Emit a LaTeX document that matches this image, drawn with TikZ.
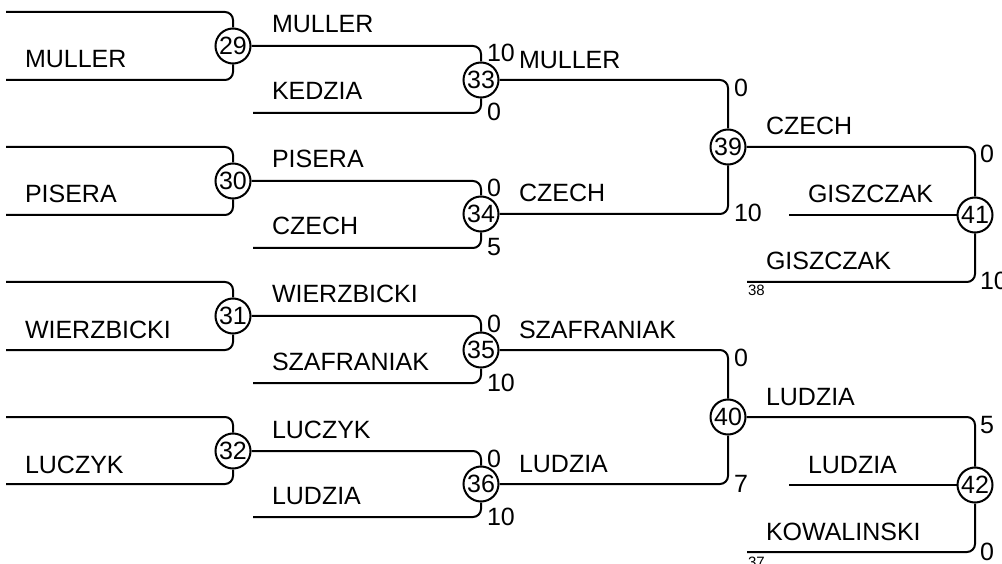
\documentclass[tikz,border=0pt]{standalone}
\usepackage{fontspec}
\setmainfont{Liberation Sans}
\begin{document}
\begin{tikzpicture}[x=1pt,y=-1pt, line width=2pt,
  seed/.style={circle,draw,fill=white,inner sep=0pt,minimum size=35pt,font=\fontsize{25}{30}\selectfont},
  lbl/.style={anchor=base west,inner sep=0pt,font=\fontsize{25}{30}\selectfont},
  score/.style={anchor=base west,inner sep=0pt,font=\fontsize{25}{30}\selectfont},
  tinylbl/.style={anchor=base west,inner sep=0pt,font=\fontsize{15}{18}\selectfont},
  br/.style={rounded corners=8pt}]
\useasboundingbox (0,0) rectangle (1002,564);
% match nodes
\node[seed] (c29) at (233,46) {29};
\node[seed] (c30) at (233,181) {30};
\node[seed] (c31) at (233,316) {31};
\node[seed] (c32) at (233,451) {32};
\node[seed] (c33) at (481,80) {33};
\node[seed] (c34) at (481,214) {34};
\node[seed] (c35) at (481,350) {35};
\node[seed] (c36) at (481,484) {36};
\node[seed] (c39) at (728,147) {39};
\node[seed] (c40) at (728,417) {40};
\node[seed] (c41) at (975,215) {41};
\node[seed] (c42) at (975,485) {42};
% free ends
\coordinate (s29t) at (6,12);   \coordinate (s29b) at (6,80);
\coordinate (s30t) at (6,147);  \coordinate (s30b) at (6,215);
\coordinate (s31t) at (6,282);  \coordinate (s31b) at (6,350);
\coordinate (s32t) at (6,417);  \coordinate (s32b) at (6,484);
\coordinate (s33b) at (253,113);
\coordinate (s34b) at (253,248);
\coordinate (s35b) at (253,383);
\coordinate (s36b) at (253,517);
\coordinate (s41b) at (747,282); \coordinate (s41m) at (789,215);
\coordinate (s42b) at (747,552); \coordinate (s42m) at (789,485);
% round 1
\foreach \m in {29,30,31,32}{
  \draw[br] (s\m t) -| (c\m.north);
  \draw[br] (s\m b) -| (c\m.south);
}
% round 2
\draw[br] (c29.east) -| (c33.north); \draw[br] (s33b) -| (c33.south);
\draw[br] (c30.east) -| (c34.north); \draw[br] (s34b) -| (c34.south);
\draw[br] (c31.east) -| (c35.north); \draw[br] (s35b) -| (c35.south);
\draw[br] (c32.east) -| (c36.north); \draw[br] (s36b) -| (c36.south);
% round 3
\draw[br] (c33.east) -| (c39.north); \draw[br] (c34.east) -| (c39.south);
\draw[br] (c35.east) -| (c40.north); \draw[br] (c36.east) -| (c40.south);
% round 4
\draw[br] (c39.east) -| (c41.north); \draw[br] (s41b) -| (c41.south); \draw (s41m) -- (c41.west);
\draw[br] (c40.east) -| (c42.north); \draw[br] (s42b) -| (c42.south); \draw (s42m) -- (c42.west);
% round 1 names
\node[lbl] (n1) at (24,68) {MULLER};
\node[lbl] (n2) at (24,203) {PISERA};
\node[lbl] (n3) at (24,338) {WIERZBICKI};
\node[lbl] (n4) at (24,473) {LUCZYK};
% round 2 names
\node[lbl] (n5) at (271,33) {MULLER};
\node[lbl] (n6) at (271,100) {KEDZIA};
\node[lbl] (n7) at (271,168) {PISERA};
\node[lbl] (n8) at (271,235) {CZECH};
\node[lbl] (n9) at (271,303) {WIERZBICKI};
\node[lbl] (n10) at (271,370) {SZAFRANIAK};
\node[lbl] (n11) at (271,438) {LUCZYK};
\node[lbl] (n12) at (271,504) {LUDZIA};
% round 3 names
\node[lbl] (n13) at (518,69) {MULLER};
\node[lbl] (n14) at (518,202) {CZECH};
\node[lbl] (n15) at (518,338) {SZAFRANIAK};
\node[lbl] (n16) at (518,472) {LUDZIA};
% round 4 names
\node[lbl] (n17) at (765,135) {CZECH};
\node[lbl] (n18) at (807,203) {GISZCZAK};
\node[lbl] (n19) at (765,270) {GISZCZAK};
\node[lbl] (n20) at (765,405) {LUDZIA};
\node[lbl] (n21) at (807,473) {LUDZIA};
\node[lbl] (n22) at (765,540) {KOWALINSKI};
% scores
\node[score] (p33t) at (486,62) {10}; \node[score] (p33b) at (486,121) {0};
\node[score] (p34t) at (486,197) {0};  \node[score] (p34b) at (486,256) {5};
\node[score] (p35t) at (486,332) {0};  \node[score] (p35b) at (486,391) {10};
\node[score] (p36t) at (486,467) {0};  \node[score] (p36b) at (486,525) {10};
\node[score] (p39t) at (733,97) {0};   \node[score] (p39b) at (733,222) {10};
\node[score] (p40t) at (733,366) {0};  \node[score] (p40b) at (733,492) {7};
\node[score] (p41t) at (979,163) {0};  \node[score] (p41b) at (979,290) {10};
\node[score] (p42t) at (979,433) {5};  \node[score] (p42b) at (979,560) {0};
% small numbers
\node[tinylbl] (t38) at (747,296) {38};
\node[tinylbl] (t37) at (747,567) {37};
\end{tikzpicture}
\end{document}
